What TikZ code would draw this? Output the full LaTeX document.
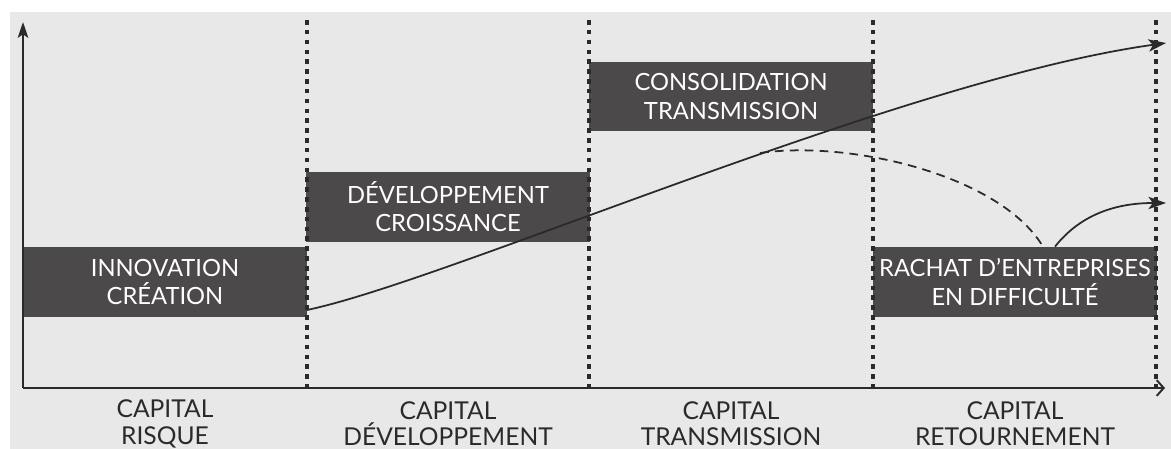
\documentclass[tikz,border=0pt]{standalone}
\usepackage{fontspec}
\setmainfont{Lato}
\usetikzlibrary{arrows.meta}

\definecolor{bggray}{HTML}{E8E8E8}
\definecolor{boxgray}{HTML}{4B494A}
\definecolor{inkgray}{HTML}{2A2A2A}

\begin{document}
\begin{tikzpicture}[x=0.02cm, y=-0.02cm,
    phase/.style={fill=boxgray, text=white, inner sep=0pt, align=center,
        minimum width=5.68cm, minimum height=1.4cm,
        font=\fontsize{13.5}{16}\selectfont},
    stage/.style={text=inkgray, align=center, inner sep=0pt,
        font=\fontsize{14}{15}\selectfont},
    limit/.style={inkgray, line width=1.8pt, dash pattern=on 2.6pt off 3pt},
    flow/.style={inkgray, line width=1pt, -{Stealth[length=10pt,width=7pt,inset=2.5pt]}}]
\useasboundingbox (0,0) rectangle (1171,449);
\fill[bggray] (10,12) rectangle (1171,449);

% phases of the company
\node[phase] (innov)  at (165,282)  {INNOVATION\\CRÉATION};
\node[phase] (devel)  at (448,207)  {DÉVELOPPEMENT\\CROISSANCE};
\node[phase] (consol) at (731,96.5) {CONSOLIDATION\\TRANSMISSION};
\node[phase] (rachat) at (1015,282) {RACHAT D’ENTREPRISES\\EN DIFFICULTÉ};

% borders between the kinds of capital
\foreach \x in {307,589,873,1156}
    \draw[limit] (\x,20) -- (\x,388);

% axes
\draw[inkgray, line width=1.1pt, -{Stealth[length=9pt,width=6pt,inset=2pt]}] (23,388) -- (23,22);
\draw[inkgray, line width=1.1pt, -{Straight Barb[length=4pt,width=9pt]}] (23,388) -- (1165,388);

% growth curve and turnaround branch
\coordinate (start) at (307,310);
\coordinate (split) at (760,153);
\coordinate (top)   at (1166,43);
\coordinate (exit)  at (1166,203);
\draw[flow] (start) .. controls (450,280) and (900,80) .. (top);
\draw[inkgray, line width=1pt, dash pattern=on 5pt off 3.5pt]
    (split) .. controls (850,140) and (1000,175) .. ([xshift=0.56cm]rachat.north);
\draw[flow] ([xshift=0.8cm]rachat.north) .. controls (1080,215) and (1115,203) .. (exit);

% kinds of capital
\foreach \name/\x/\txt in {risque/165/RISQUE, dev/448/DÉVELOPPEMENT,
        trans/731/TRANSMISSION, retour/1015/RETOURNEMENT}
    \node[stage] (\name) at (\x,424) {CAPITAL\\\txt};
\end{tikzpicture}
\end{document}
